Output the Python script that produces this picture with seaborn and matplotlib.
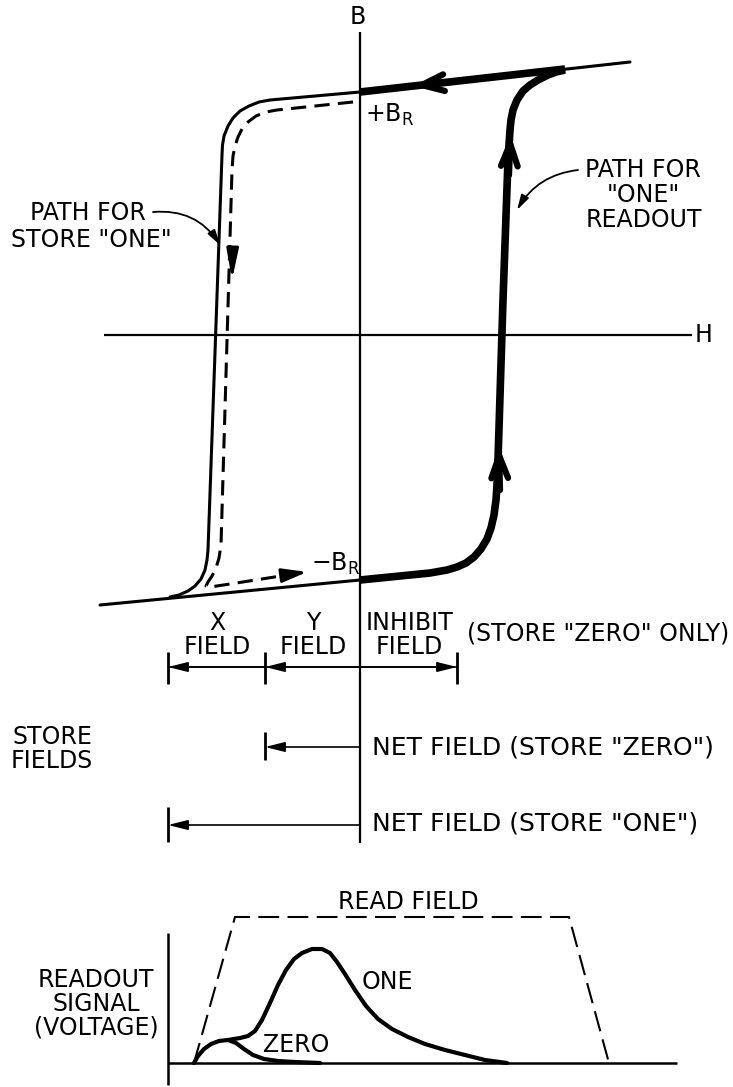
import matplotlib.pyplot as plt
import seaborn as sns

# coordinates (x to the right, y downwards, in pixels)
loop_x = [630, 360, 270, 259, 249, 240, 233, 228, 224, 222.5, 222, 208, 207, 205, 201, 195, 188, 179, 170]
loop_y = [62, 92, 100, 102, 106, 111, 118, 126, 136, 145, 155, 550, 560, 570, 579, 586, 591, 595, 597]
lower_x = [100, 360]
lower_y = [605, 580]

store_x = [353, 277, 266, 256, 248, 242, 238, 235, 233, 232, 221, 219, 216, 212, 208, 206, 210, 230, 300]
store_y = [102, 110, 112, 116, 122, 129, 137, 146, 156, 170, 545, 558, 568, 576, 582, 586, 587, 584, 573]

read_x = [360, 400, 430, 447, 457, 466, 474, 481, 487, 491, 494, 496, 497, 498, 503, 508, 510,
          511, 513, 517, 523, 530, 538, 548, 556, 565]
read_y = [580, 576, 573, 570, 567, 563, 557, 549, 539, 528, 515, 500, 485, 460, 300, 160, 130,
          120, 110, 100, 91, 85, 80, 75, 72, 70]
read_top_x = [360, 565]
read_top_y = [92, 69]

# store field spans: X field, Y field, inhibit field
field_edges = [168, 265, 360, 457]
field_names = ["X\nFIELD", "Y\nFIELD", "INHIBIT\nFIELD"]

# readout signal panel
pulse_t = [194, 235, 569, 609]
pulse_v = [1063, 917, 917, 1063]
zero_t = [194, 198, 204, 211, 219, 228, 236, 244, 253, 264, 278, 295, 320]
zero_v = [1063, 1056, 1049, 1044, 1041, 1040, 1043, 1049, 1055, 1059, 1061, 1062, 1063]
one_t = [228, 240, 248, 255, 262, 270, 278, 286, 294, 302, 312, 322, 330, 337, 345, 355, 366,
         378, 392, 408, 425, 445, 465, 485, 507]
one_v = [1040, 1038, 1036, 1031, 1020, 1003, 985, 970, 959, 953, 949, 949, 953, 962, 974, 990,
         1006, 1019, 1029, 1037, 1044, 1050, 1055, 1060, 1063]

sns.set_style("white")
plt.rcParams['font.family'] = ['DejaVu Sans']
plt.rcParams['mathtext.default'] = 'regular'
plt.rcParams['text.color'] = 'black'

fig = plt.figure(figsize=(7.33, 10.87), dpi=100)
ax = fig.add_axes([0, 0, 1, 1])
ax.set_xlim(0, 733)
ax.set_ylim(1087, 0)
ax.axis('off')

k = 'black'

# axes of the B-H plane
ax.plot([360, 360], [32, 843], color=k, lw=1.6, solid_capstyle='butt')
ax.plot([104, 692], [335, 335], color=k, lw=1.6, solid_capstyle='butt')
ax.text(358, 17, "B", fontsize=17, ha='center', va='center')
ax.text(704, 335, "H", fontsize=17, ha='center', va='center')

# hysteresis loop
sns.lineplot(x=loop_x, y=loop_y, sort=False, estimator=None, color=k, lw=2.2, ax=ax)
sns.lineplot(x=lower_x, y=lower_y, sort=False, estimator=None, color=k, lw=2.2, ax=ax)
sns.lineplot(x=store_x, y=store_y, sort=False, estimator=None, color=k, lw=2.2,
             linestyle=(0, (5, 2.7)), ax=ax)
sns.lineplot(x=read_x, y=read_y, sort=False, estimator=None, color=k, lw=5.5,
             solid_capstyle='butt', ax=ax)
sns.lineplot(x=read_top_x, y=read_top_y, sort=False, estimator=None, color=k, lw=5.5,
             solid_capstyle='butt', ax=ax)

# arrows along the paths
def arrow(tip, tail, style, lw):
    ax.annotate("", xy=tip, xytext=tail,
                arrowprops=dict(arrowstyle=style, color=k, lw=lw, shrinkA=0, shrinkB=0))

arrow((510.5, 135), (509, 175), "->,head_length=1.6,head_width=0.6", 4.5)
arrow((499, 447), (500, 490), "->,head_length=1.6,head_width=0.6", 4.5)
arrow((413, 86), (450, 82), "->,head_length=1.6,head_width=0.6", 4.5)
arrow((232, 280), (232.5, 255), "-|>,head_length=1.8,head_width=0.35", 2.2)
arrow((307, 572), (285, 575), "-|>,head_length=1.5,head_width=0.42", 2.2)

ax.text(365, 115, "+B$_R$", fontsize=17, ha='left', va='center')
ax.text(311, 564, "\u2212B$_R$", fontsize=17, ha='left', va='center')

ax.text(88, 213, "PATH FOR", fontsize=17, ha='center', va='center')
ax.text(91, 240, "STORE \"ONE\"", fontsize=17, ha='center', va='center')
ax.annotate("", xy=(220, 245), xytext=(153, 212),
            arrowprops=dict(arrowstyle="-|>,head_length=0.9,head_width=0.25", color=k, lw=1.3,
                            connectionstyle="arc3,rad=-0.3", shrinkA=0, shrinkB=0))

ax.text(643, 170, "PATH FOR", fontsize=17, ha='center', va='center')
ax.text(643, 195, "\"ONE\"", fontsize=17, ha='center', va='center')
ax.text(644, 220, "READOUT", fontsize=17, ha='center', va='center')
ax.annotate("", xy=(517, 210), xytext=(578, 170),
            arrowprops=dict(arrowstyle="-|>,head_length=0.9,head_width=0.25", color=k, lw=1.3,
                            connectionstyle="arc3,rad=0.25", shrinkA=0, shrinkB=0))

# store fields
dim = "-|>,head_length=1.2,head_width=0.3"
ax.plot([field_edges[0], field_edges[3]], [667, 667], color=k, lw=1.2)
arrow((field_edges[0], 667), (field_edges[1], 667), dim, 1.2)
arrow((field_edges[1], 667), (field_edges[2], 667), dim, 1.2)
arrow((field_edges[3], 667), (field_edges[2], 667), dim, 1.2)
ax.vlines([field_edges[0], field_edges[1], field_edges[3]], 652, 684, color=k, lw=2)
for i, name in enumerate(field_names):
    cx = (field_edges[i] + field_edges[i + 1]) / 2 + 1
    ax.text(cx, 635, name, fontsize=17, ha='center', va='center', linespacing=1.0)
ax.text(467, 633, "(STORE \"ZERO\" ONLY)", fontsize=17, ha='left', va='center')

ax.text(52, 749, "STORE\nFIELDS", fontsize=17, ha='center', va='center', linespacing=1.05)

arrow((field_edges[1], 747), (field_edges[2], 747), dim, 1.2)
ax.vlines(field_edges[1], 732, 760, color=k, lw=2)
ax.text(372, 747, "NET FIELD (STORE \"ZERO\")", fontsize=18, ha='left', va='center')

arrow((field_edges[0], 825), (field_edges[2], 825), dim, 1.2)
ax.vlines(field_edges[0], 807, 842, color=k, lw=2)
ax.text(372, 823, "NET FIELD (STORE \"ONE\")", fontsize=18, ha='left', va='center')

# readout signal panel
ax.plot([168, 168], [933, 1085], color=k, lw=1.8, solid_capstyle='butt')
ax.plot([168, 677], [1063, 1063], color=k, lw=1.8, solid_capstyle='butt')
sns.lineplot(x=pulse_t, y=pulse_v, sort=False, estimator=None, color=k, lw=1.5,
             linestyle=(0, (10, 4)), ax=ax)
sns.lineplot(x=zero_t, y=zero_v, sort=False, estimator=None, color=k, lw=3, ax=ax)
sns.lineplot(x=one_t, y=one_v, sort=False, estimator=None, color=k, lw=3, ax=ax)

ax.text(408, 902, "READ FIELD", fontsize=17, ha='center', va='center')
ax.text(96, 1004, "READOUT\nSIGNAL\n(VOLTAGE)", fontsize=17, ha='center', va='center',
        linespacing=1.0)
ax.text(362, 982, "ONE", fontsize=17, ha='left', va='center')
ax.text(263, 1045, "ZERO", fontsize=17, ha='left', va='center')

fig.savefig("out.png", dpi=100)
